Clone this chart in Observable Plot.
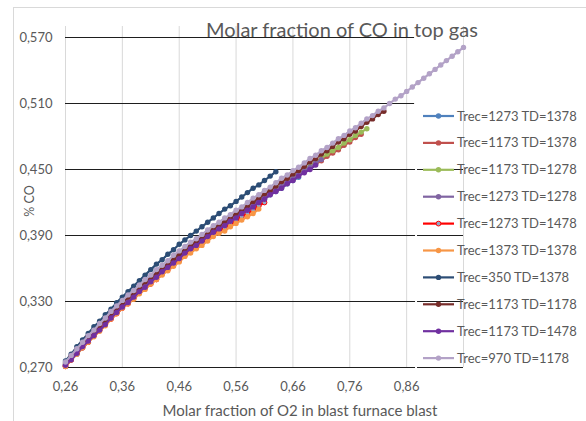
<!DOCTYPE html>
<html><head><meta charset="utf-8">
<script src="https://cdn.jsdelivr.net/npm/d3@7"></script>
<script src="https://cdn.jsdelivr.net/npm/@observablehq/plot@0.6"></script>
<style>
html,body{margin:0;padding:0;background:#fff;}
#wrap{position:relative;width:586px;height:421px;overflow:hidden;font-family:Lato,sans-serif;}
</style></head>
<body><div id="wrap"></div>
<script>
// Molar fraction of O2 in blast (x values, shared by all series)
const o2 = [0.26,0.27,0.28,0.29,0.30,0.31,0.32,0.33,0.34,0.35,
            0.36,0.37,0.38,0.39,0.40,0.41,0.42,0.43,0.44,0.45,
            0.46,0.47,0.48,0.49,0.50,0.51,0.52,0.53,0.54,0.55,
            0.56,0.57,0.58,0.59,0.60,0.61,0.62,0.63,0.64,0.65,
            0.66,0.67,0.68,0.69,0.70,0.71,0.72,0.73,0.74,0.75,
            0.76,0.77,0.78,0.79,0.80,0.81,0.82,0.83,0.84,0.85,
            0.86,0.87,0.88,0.89,0.90,0.91,0.92,0.93,0.94,0.95,0.96];

const seriesNames = ["Trec=1273 TD=1378","Trec=1173 TD=1378","Trec=1173 TD=1278","Trec=1273 TD=1278",
  "Trec=1273 TD=1478","Trec=1373 TD=1378","Trec=350 TD=1378","Trec=1173 TD=1178","Trec=1173 TD=1478","Trec=970 TD=1178"];
const seriesColors = ["#4F81BD","#C0504D","#9BBB59","#8064A2","#FF0000","#F79646","#2C4D75","#772C2A","#7030A0","#B3A2C7"];

// % CO for each series (first value at O2 = 0.26, step 0.01)
const co_1273_1378 = [.271,.277,.282,.288,.293,.299,.304,.309,.315,.320,
 .325,.329,.334,.339,.343,.348,.352,.357,.361,.365,
 .369,.374,.378,.381,.385,.389,.393,.396,.399,.403,
 .406,.410,.413,.416,.420,.423,.427,.430,.433,.437,
 .440,.443];
const co_1173_1378 = [.272,.277,.283,.289,.294,.300,.305,.310,.316,.321,
 .326,.330,.335,.340,.344,.349,.353,.358,.362,.366,
 .370,.375,.379,.382,.386,.390,.394,.397,.400,.404,
 .407,.411,.414,.417,.421,.424,.428,.431,.434,.438,
 .441,.445,.448,.451,.455,.458,.462,.465,.468,.472,
 .475,.479,.482];
const co_1173_1278 = [.273,.279,.285,.291,.296,.302,.307,.312,.318,.323,
 .328,.332,.337,.342,.346,.351,.355,.360,.364,.368,
 .372,.377,.381,.384,.388,.392,.396,.399,.402,.406,
 .409,.413,.416,.419,.423,.426,.430,.433,.436,.440,
 .443,.447,.450,.453,.457,.460,.464,.467,.470,.474,
 .477,.481,.484,.487];
const co_1273_1278 = [.272,.278,.284,.290,.295,.301,.306,.311,.317,.322,
 .327,.331,.336,.341,.345,.350,.354,.359,.363,.367,
 .371,.376,.380,.383,.387,.391,.395,.398,.401,.405,
 .408,.412,.415,.418,.422,.425,.429,.432,.435,.439,
 .442,.446,.449,.452,.456,.459];
const co_1273_1478 = [.271,.277,.283,.288,.293,.299,.304,.309,.314,.319,
 .324,.328,.333,.338,.342,.346,.350,.355,.359,.363,
 .367,.372,.376,.379,.383,.387,.391,.394,.397,.400,
 .403,.407,.410,.413,.417,.420];
const co_1373_1378 = [.271,.277,.282,.288,.293,.298,.303,.308,.314,.319,
 .324,.328,.332,.337,.341,.346,.350,.354,.358,.362,
 .366,.371,.374,.378,.381,.385,.389,.392,.394,.398,
 .401,.404,.407,.410,.414];
const co_350_1378 = [.276,.282,.289,.295,.301,.307,.312,.318,.323,.329,
 .334,.339,.344,.349,.354,.359,.364,.368,.373,.377,
 .382,.386,.390,.394,.398,.402,.406,.410,.414,.417,
 .421,.425,.429,.433,.436,.440,.444,.448];
const co_1173_1178 = [.274,.280,.286,.292,.298,.302,.308,.313,.319,.324,
 .329,.334,.338,.343,.348,.351,.356,.360,.364,.369,
 .373,.377,.381,.384,.388,.392,.396,.399,.403,.406,
 .410,.413,.417,.421,.424,.428,.431,.435,.439,.442,
 .446,.449,.453,.457,.460,.464,.467,.471,.475,.478,
 .482,.485,.489,.493,.496,.500,.503];
const co_1173_1478 = [.272,.277,.283,.289,.294,.299,.304,.309,.315,.320,
 .325,.329,.334,.339,.343,.348,.352,.357,.361,.365,
 .369,.374,.378,.381,.385,.389,.393,.396,.399,.403,
 .406,.410,.413,.416,.420,.423,.427,.430,.433,.437,
 .440,.444,.447,.450,.454];
const co_970_1178 = [.275,.281,.287,.293,.299,.304,.310,.315,.321,.326,
 .331,.336,.340,.345,.350,.354,.359,.363,.367,.372,
 .376,.380,.384,.387,.391,.395,.399,.402,.406,.409,
 .413,.416,.420,.424,.427,.431,.434,.438,.442,.445,
 .449,.452,.456,.460,.463,.467,.470,.474,.478,.481,
 .485,.488,.492,.496,.499,.503,.506,.510,.514,.517,
 .521,.525,.529,.533,.537,.541,.545,.549,.553,.557,.561];

const seriesValues = [co_1273_1378, co_1173_1378, co_1173_1278, co_1273_1278, co_1273_1478,
  co_1373_1378, co_350_1378, co_1173_1178, co_1173_1478, co_970_1178];

const yTicks = [0.27,0.33,0.39,0.45,0.51,0.57];
const xTicks = [0.26,0.36,0.46,0.56,0.66,0.76,0.86];
const xGrid  = [0.26,0.36,0.46,0.56,0.66,0.76,0.86,0.96];

const textColor = "#595959";
const xCut = 0.874;   // where the upper gridlines stop (legend overlap)

const series = seriesNames.map((name, i) => ({
  name, color: seriesColors[i],
  rows: seriesValues[i].map((v, j) => ({x: o2[j], y: v}))
}));

const marks = [
  Plot.ruleX(xGrid, {x: d => d, y1: () => 0.27, y2: () => 0.58, stroke: "#d9d9d9", strokeWidth: 1}),
  Plot.ruleY(yTicks, {y: d => d, x1: () => 0.26, x2: d => d >= 0.5 ? xCut : 0.96, stroke: "#1e1e1e", strokeWidth: 1}),
  Plot.ruleX([xCut + 0.0025], {x: d => d, y1: () => 0.268, y2: () => 0.508, stroke: "#fff", strokeWidth: 2}),
];
series.forEach((s, i) => {
  marks.push(Plot.line(s.rows, {x: "x", y: "y", stroke: s.color, strokeWidth: 2.2}));
  if (s.color === "#FF0000") {
    marks.push(Plot.dot(s.rows, {x: "x", y: "y", r: 2.4, fill: "#8fa8c8", stroke: s.color, strokeWidth: 1}));
  } else {
    marks.push(Plot.dot(s.rows, {x: "x", y: "y", r: 2.7, fill: s.color, stroke: "none"}));
  }
});
marks.push(
  Plot.text(yTicks, {x: () => 0.26, y: d => d, text: d => d.toFixed(3).replace(".", ","),
    textAnchor: "end", dx: -13, fontSize: 13, fill: textColor}),
  Plot.text(xTicks, {x: d => d, y: () => 0.27, text: d => d.toFixed(2).replace(".", ","),
    dy: 19, fontSize: 13, fill: textColor})
);

const chart = Plot.plot({
  width: 586, height: 421,
  marginLeft: 65, marginRight: 123, marginTop: 26, marginBottom: 54,
  x: {domain: [0.26, 0.96], axis: null},
  y: {domain: [0.27, 0.58], axis: null},
  style: {background: "transparent", fontFamily: "Lato, sans-serif", overflow: "visible"},
  marks
});
document.getElementById("wrap").appendChild(chart);

const svg = d3.select(chart);
// outer chart border
svg.insert("rect", ":first-child").attr("x", 13.5).attr("y", 7.5).attr("width", 620).attr("height", 500)
  .attr("fill", "none").attr("stroke", "#d9d9d9");
// title
svg.append("text").attr("x", 342).attr("y", 37).attr("text-anchor", "middle")
  .attr("font-size", 20).attr("fill", textColor).text("Molar fraction of CO in top gas");
// axis titles
svg.append("text").attr("x", 300).attr("y", 416).attr("text-anchor", "middle")
  .attr("font-size", 15).attr("fill", textColor).text("Molar fraction of O2 in blast furnace blast");
svg.append("text").attr("transform", "translate(34,201) rotate(-90)").attr("text-anchor", "middle")
  .attr("font-size", 12.5).attr("fill", textColor).text("% CO");
// legend
const lg = svg.append("g").attr("text-anchor", "start");
seriesNames.forEach((name, i) => {
  const yy = 116 + i * 26.9;
  const c = seriesColors[i];
  lg.append("line").attr("x1", 423).attr("x2", 454).attr("y1", yy).attr("y2", yy)
    .attr("stroke", c).attr("stroke-width", 2.2);
  if (c === "#FF0000") {
    lg.append("circle").attr("cx", 438.5).attr("cy", yy).attr("r", 2.4).attr("fill", "#8fa8c8").attr("stroke", c);
  } else {
    lg.append("circle").attr("cx", 438.5).attr("cy", yy).attr("r", 2.7).attr("fill", c);
  }
  lg.append("text").attr("x", 457).attr("y", yy + 4.5).attr("text-anchor", "start")
    .attr("font-size", 13).attr("fill", textColor).text(name);
});
</script>
</body></html>
